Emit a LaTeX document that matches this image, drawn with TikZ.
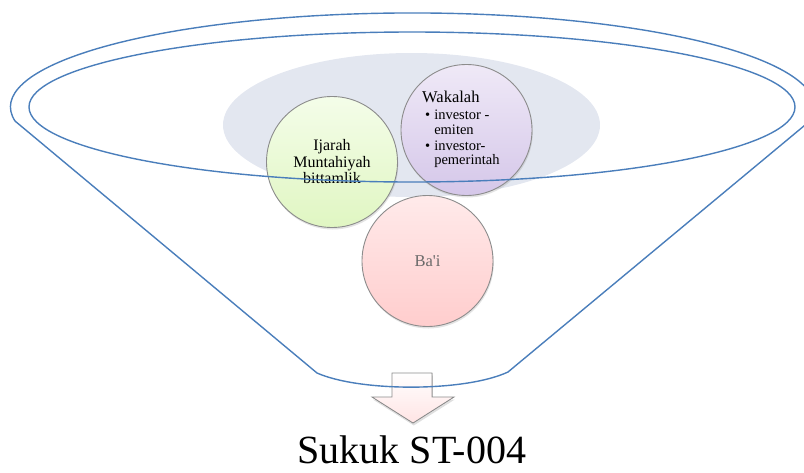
\documentclass[tikz,border=0pt]{standalone}
\usepackage{fontspec}
\setmainfont{Liberation Serif}
\usetikzlibrary{shadows}
\definecolor{funnelblue}{RGB}{74,126,187}
\definecolor{poolgray}{RGB}{227,231,240}
\definecolor{bubbleedge}{RGB}{140,140,140}
\definecolor{greentop}{RGB}{244,253,233}
\definecolor{greenbottom}{RGB}{224,246,194}
\definecolor{purpletop}{RGB}{239,233,247}
\definecolor{purplebottom}{RGB}{213,199,233}
\definecolor{pinktop}{RGB}{255,234,234}
\definecolor{pinkbottom}{RGB}{255,205,205}
\definecolor{baitext}{RGB}{105,105,105}
\tikzset{
    bubble/.style={circle,draw=bubbleedge,line width=0.9pt,minimum size=131pt,inner sep=0pt,align=center,
        drop shadow={opacity=0.22,shadow xshift=0.8pt,shadow yshift=-2pt}},
    funnel/.style={draw=funnelblue,line width=1.4pt,line join=round}
}
\begin{document}
\begin{tikzpicture}[x=1pt,y=-1pt]
    \useasboundingbox (0,0) rectangle (804,472);
    \fill [poolgray] (411.5,125) ellipse [x radius=188.5, y radius=72];
    \node (ijarah) [bubble,top color=greentop,bottom color=greenbottom,font=\fontsize{16}{16.5}\selectfont] at (332,162) {Ijarah\\Muntahiyah\\bittamlik};
    \node (wakalah) [bubble,top color=purpletop,bottom color=purplebottom] at (466.5,130) {};
    \node (wakalahtitle) [anchor=base west,inner sep=0pt,font=\fontsize{16.5}{17}\selectfont] at (422,102) {Wakalah};
    \node (wakalahlist) [anchor=north west,inner sep=0pt,font=\fontsize{14.5}{14.5}\selectfont] at (425,109.5)
        {\begin{tabular}{@{}l@{\hspace{4pt}}l@{}}\textbullet & investor -\\ & emiten\\[1.5pt]\textbullet & investor-\\ & pemerintah\end{tabular}};
    \node (bai) [bubble,top color=pinktop,bottom color=pinkbottom,text=baitext,font=\fontsize{16.5}{17}\selectfont] at (427.5,261) {Ba\textquotesingle i};
    \filldraw [draw=bubbleedge,line width=0.8pt,top color=white,bottom color=pinktop!80!pinkbottom,
        drop shadow={opacity=0.25,shadow xshift=0.8pt,shadow yshift=-2.5pt}]
        (392,373) -- (432,373) -- (432,397) -- (454,397) -- (413,423) -- (372,397) -- (392,397) -- cycle;
    \draw [funnel] (317,373) -- (15,121) arc [start angle=171.4, end angle=368.6, x radius=402, y radius=94]
        -- (508,372) .. controls (465,392) and (360,392) .. (317,373);
    \draw [funnel] (412,107) ellipse [x radius=383, y radius=75];
    \node (sukuk) [anchor=base,inner sep=0pt,font=\fontsize{40}{40}\selectfont] at (412,463) {Sukuk ST-004};
\end{tikzpicture}
\end{document}
